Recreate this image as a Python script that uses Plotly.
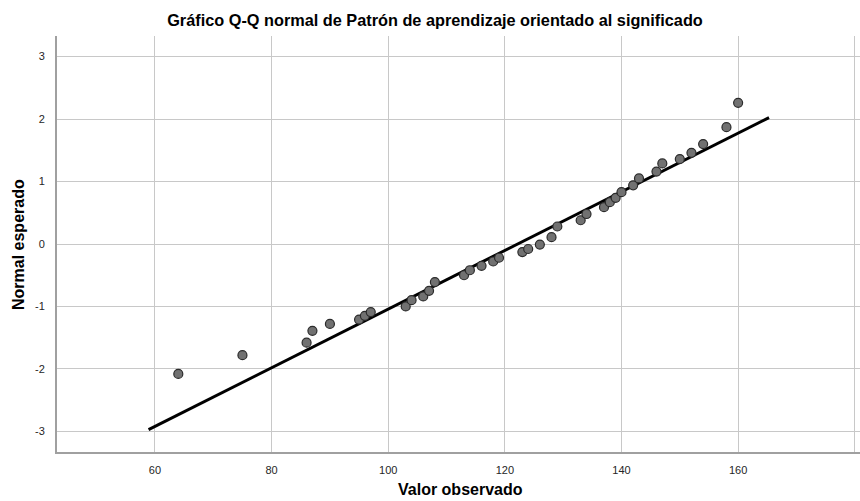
import plotly.graph_objects as go

observed = [64, 75, 86, 87, 90, 95, 96, 97, 103, 104, 106, 107, 108, 113, 114,
            116, 118, 119, 123, 124, 126, 128, 129, 133, 134, 137, 138, 139,
            140, 142, 143, 146, 147, 150, 152, 154, 158, 160]
expected = [-2.08, -1.78, -1.58, -1.39, -1.28, -1.21, -1.15, -1.09, -1.00, -0.90,
            -0.84, -0.75, -0.61, -0.50, -0.42, -0.35, -0.28, -0.22, -0.13, -0.08,
            -0.01, 0.11, 0.28, 0.38, 0.48, 0.59, 0.67, 0.74, 0.83, 0.94, 1.05,
            1.16, 1.29, 1.36, 1.46, 1.60, 1.87, 2.26]

# Reference normal line parameters
line_mean = 122.2
line_sd = 21.3
line_x = [58.9, 165.3]
line_y = [(v - line_mean) / line_sd for v in line_x]

x_ticks = [60, 80, 100, 120, 140, 160, 180]
y_ticks = [-3, -2, -1, 0, 1, 2, 3]

FONT = "Liberation Sans, Arial, sans-serif"
W, H = 860, 501

fig = go.Figure()
fig.add_trace(go.Scatter(
    x=line_x, y=line_y, mode="lines",
    line=dict(color="#000000", width=3),
    hoverinfo="skip", showlegend=False,
))
fig.add_trace(go.Scatter(
    x=observed, y=expected, mode="markers",
    marker=dict(size=9, color="#717171", line=dict(color="#2b2b2b", width=1.2)),
    showlegend=False,
))

fig.update_layout(
    width=W, height=H,
    margin=dict(l=57, r=0, t=36, b=49, autoexpand=False),
    paper_bgcolor="white", plot_bgcolor="white",
    font=dict(family=FONT, color="#000000"),
    title=dict(
        text="<b>Gráfico Q-Q normal de Patrón de aprendizaje orientado al significado</b>",
        x=435 / W, xref="container", xanchor="center",
        y=1 - 20 / H, yref="container", yanchor="middle",
        font=dict(family=FONT, size=16.3, color="#000000"),
        automargin=False,
    ),
    xaxis=dict(
        range=[43.2, 180.9], tickvals=x_ticks, ticktext=[str(v) for v in x_ticks],
        showgrid=True, gridcolor="#c8c8c8", gridwidth=1.3,
        zeroline=False, showline=True, linecolor="#a0a0a0", linewidth=2,
        ticks="", ticklabelstandoff=7, automargin=False,
        tickfont=dict(family=FONT, size=11, color="#262626"),
    ),
    yaxis=dict(
        range=[-3.33, 3.33], tickvals=y_ticks, ticktext=[str(v) for v in y_ticks],
        showgrid=True, gridcolor="#c8c8c8", gridwidth=1.3,
        zeroline=False, showline=True, linecolor="#a0a0a0", linewidth=2,
        ticks="", ticklabelstandoff=8, automargin=False,
        tickfont=dict(family=FONT, size=11, color="#262626"),
    ),
    annotations=[
        dict(text="<b>Valor observado</b>", xref="paper", yref="paper",
             x=(460 - 57) / (W - 57), y=-(489 - 452) / (H - 36 - 49),
             xanchor="center", yanchor="middle", showarrow=False,
             font=dict(family=FONT, size=16, color="#000000")),
        dict(text="<b>Normal esperado</b>", xref="paper", yref="paper",
             x=-(57 - 18) / (W - 57), y=(452 - 245) / (H - 36 - 49),
             xanchor="center", yanchor="middle", showarrow=False, textangle=-90,
             font=dict(family=FONT, size=16, color="#000000")),
    ],
)

fig.write_html("out.html", config={"displayModeBar": False},
               post_script="document.body.style.margin='0';")
